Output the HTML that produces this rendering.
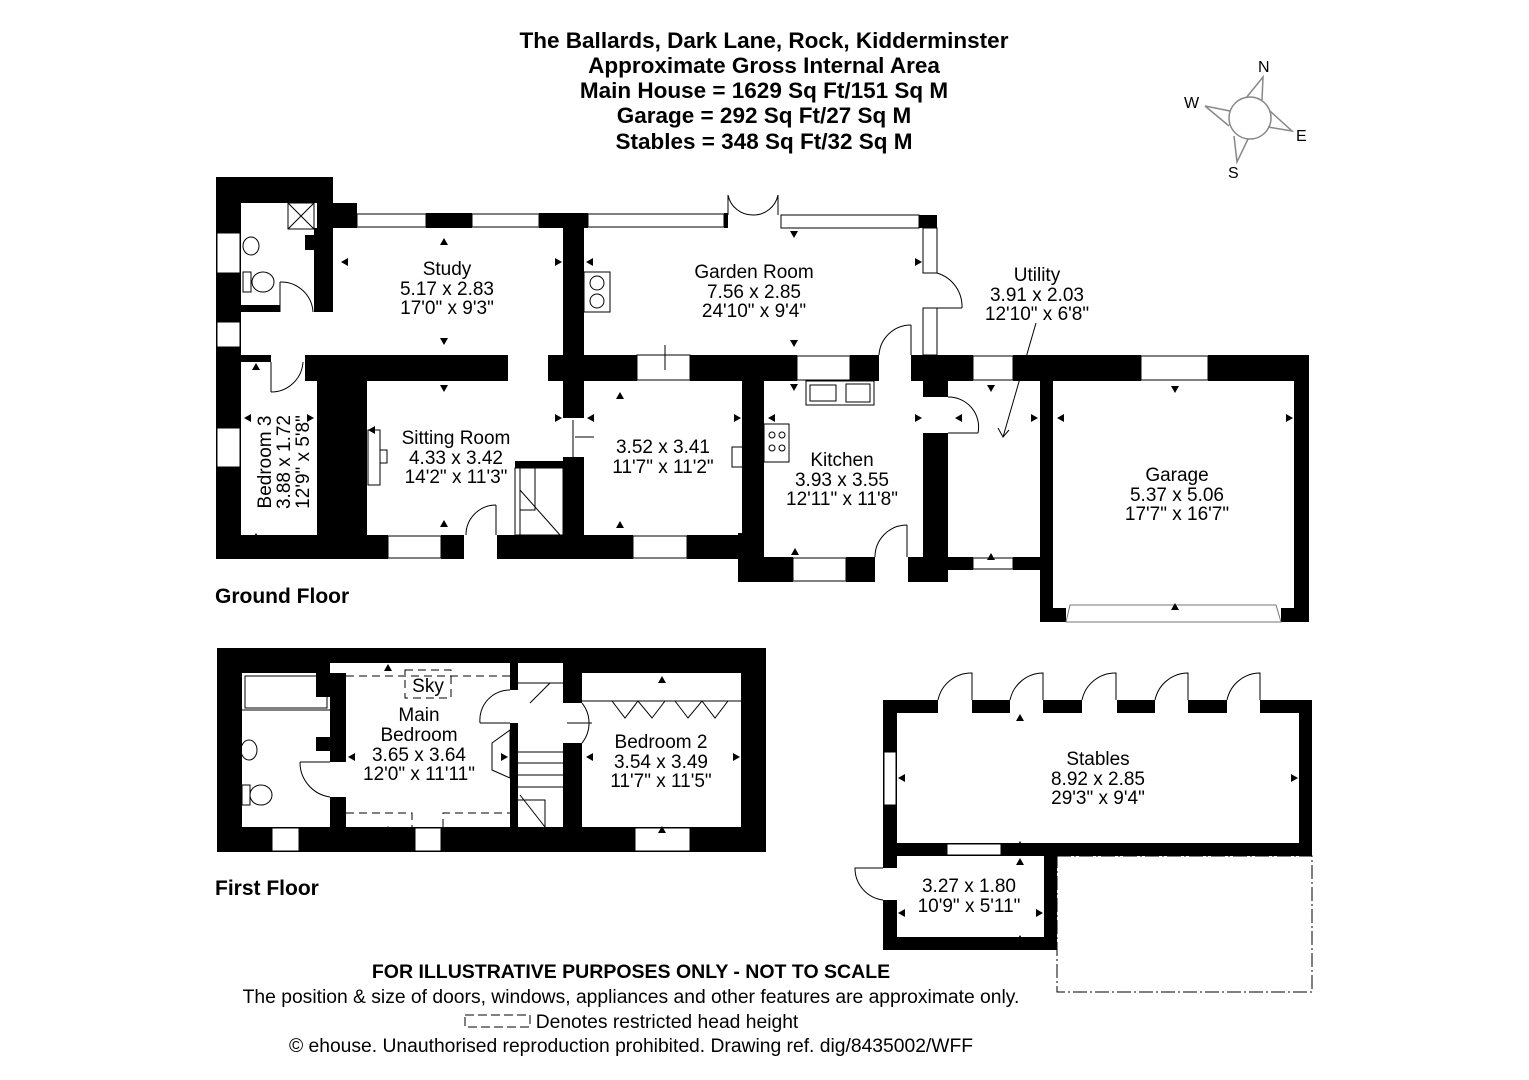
<!DOCTYPE html>
<html><head><meta charset="utf-8"><style>
html,body{margin:0;padding:0;background:#fff;}
svg{display:block;}
text{font-family:"Liberation Sans",Arial,sans-serif;}
</style></head><body>
<svg width="1529" height="1080" viewBox="0 0 1529 1080" xmlns="http://www.w3.org/2000/svg">
<!-- Title -->
<g font-weight="bold" font-size="22.5" text-anchor="middle" fill="#000">
<text x="764" y="48">The Ballards, Dark Lane, Rock, Kidderminster</text>
<text x="764" y="73">Approximate Gross Internal Area</text>
<text x="764" y="98">Main House = 1629 Sq Ft/151 Sq M</text>
<text x="764" y="123">Garage = 292 Sq Ft/27 Sq M</text>
<text x="764" y="149">Stables = 348 Sq Ft/32 Sq M</text>
</g>
<!-- Compass -->
<g stroke="#888" stroke-width="1.5" fill="none">
<circle cx="1250" cy="118" r="21"/>
<polyline points="1246,98 1263,77 1262,100"/>
<polyline points="1230,111 1205,106 1229,126"/>
<polyline points="1270,111 1292,131 1268,127"/>
<polyline points="1234,136 1237,162 1248,139"/>
</g>
<g font-size="16" fill="#000">
<text x="1258" y="72">N</text><text x="1184" y="108">W</text><text x="1296" y="141">E</text><text x="1228" y="178">S</text>
</g>

<!-- GROUND FLOOR WALLS -->
<g fill="#000">
<rect x="216" y="177" width="25" height="382"/>
<rect x="216" y="177" width="117" height="26"/>
<rect x="317" y="203" width="40" height="25"/>
<rect x="305" y="235" width="28" height="15"/>
<rect x="314" y="228" width="19" height="84"/>
<rect x="241" y="305" width="39" height="7"/>
<rect x="426" y="213" width="46" height="15"/>
<rect x="539" y="213" width="49" height="15"/>
<rect x="724" y="213" width="4" height="15"/>
<rect x="563" y="228" width="21" height="129"/>
<rect x="216" y="355" width="55" height="7"/>
<rect x="305" y="355" width="203" height="26"/>
<rect x="548" y="355" width="89" height="26"/>
<rect x="690" y="355" width="107" height="26"/>
<rect x="850" y="355" width="29" height="26"/>
<rect x="911" y="355" width="62" height="26"/>
<rect x="923" y="380" width="25" height="17"/>
<rect x="1013" y="355" width="128" height="26"/>
<rect x="1208" y="355" width="101" height="26"/>
<rect x="317" y="362" width="50" height="174"/>
<rect x="216" y="535" width="172" height="24"/>
<rect x="441" y="535" width="23" height="24"/>
<rect x="497" y="535" width="136" height="24"/>
<rect x="687" y="535" width="56" height="24"/>
<rect x="563" y="381" width="21" height="37"/>
<rect x="563" y="457" width="21" height="79"/>
<rect x="515" y="461" width="48" height="7"/>
<rect x="742" y="381" width="22" height="155"/>
<rect x="738" y="533" width="26" height="49"/>
<rect x="738" y="557" width="55" height="25"/>
<rect x="846" y="557" width="29" height="25"/>
<rect x="908" y="557" width="40" height="25"/>
<rect x="923" y="433" width="25" height="149"/>
<rect x="948" y="557" width="25" height="13"/>
<rect x="1013" y="557" width="27" height="13"/>
<rect x="919" y="215" width="18" height="13"/>
<rect x="1040" y="380" width="13" height="242"/>
<rect x="1294" y="355" width="15" height="267"/>
<rect x="1040" y="608" width="26" height="14"/>
<rect x="1281" y="608" width="28" height="14"/>
</g>
<g fill="#fff" stroke="#000" stroke-width="1">
<rect x="357" y="214" width="69" height="13"/>
<rect x="472" y="214" width="67" height="13"/>
<rect x="588" y="214" width="136" height="13"/>
<rect x="781" y="215" width="138" height="13"/>
<rect x="923" y="228" width="14" height="45"/>
<rect x="923" y="308" width="14" height="47"/>
<rect x="637" y="355" width="53" height="25"/>
<rect x="797" y="356" width="53" height="24"/>
<rect x="973" y="356" width="40" height="24"/>
<rect x="1141" y="356" width="67" height="24"/>
<rect x="388" y="536" width="53" height="22"/>
<rect x="633" y="536" width="54" height="22"/>
<rect x="793" y="558" width="53" height="23"/>
<rect x="973" y="558" width="40" height="11"/>
<rect x="217" y="233" width="23" height="40"/>
<rect x="217" y="322" width="23" height="25"/>
<rect x="217" y="428" width="23" height="39"/>
</g>
<g fill="none" stroke="#000" stroke-width="1">
<path d="M280 282 A32 32 0 0 1 313 312"/><line x1="280" y1="282" x2="280" y2="312"/>
<path d="M271 392 A32 32 0 0 0 303 362"/><line x1="271" y1="362" x2="271" y2="392"/>
<path d="M466 535 A30 30 0 0 1 496 505"/><line x1="496" y1="505" x2="496" y2="535"/>
<path d="M728 195 A25 25 0 0 0 753 215 M778 195 A25 25 0 0 1 753 215"/>
<line x1="728" y1="195" x2="728" y2="215"/><line x1="778" y1="195" x2="778" y2="215"/>
<path d="M937 273 A35 35 0 0 1 962 308"/><line x1="937" y1="308" x2="962" y2="308"/>
<path d="M879 355 A32 32 0 0 1 911 325"/><line x1="911" y1="325" x2="911" y2="355"/>
<path d="M948 397 A30 30 0 0 1 978 433"/><line x1="948" y1="433" x2="978" y2="433"/>
<path d="M875 557 A32 32 0 0 1 907 525"/><line x1="907" y1="525" x2="907" y2="557"/>
<path d="M1066 622 L1070 605 L1276 605 L1281 622 Z" stroke="#777"/>
<line x1="1036" y1="323" x2="1003" y2="437"/><path d="M998 428 L1003 437 L1009 430"/>
<rect x="515" y="468" width="48" height="67"/>
<path d="M520 468 L520 535 M535 468 L535 510 L520 510 M520 490 L560 535"/>
<rect x="288" y="203" width="26" height="26"/><path d="M288 203 L314 229 M314 203 L288 229"/>
<ellipse cx="251" cy="246" rx="8" ry="9"/>
<rect x="243" y="272" width="8" height="20"/><ellipse cx="263" cy="282" rx="11" ry="10"/>
<rect x="584" y="272" width="26" height="40"/><circle cx="597" cy="283" r="7"/><circle cx="597" cy="301" r="7"/>
<rect x="368" y="430" width="12" height="55"/><rect x="380" y="450" width="7" height="13"/>
<rect x="732" y="447" width="14" height="20"/>
<rect x="764" y="424" width="25" height="38"/><circle cx="772" cy="435" r="3"/><circle cx="782" cy="435" r="3"/><circle cx="772" cy="448" r="3"/><circle cx="782" cy="448" r="3"/>
<rect x="806" y="381" width="68" height="24"/><rect x="810" y="385" width="26" height="16"/><rect x="846" y="384" width="24" height="18"/>
<line x1="573" y1="420" x2="573" y2="457"/><line x1="575" y1="437" x2="594" y2="437"/>
<line x1="665" y1="345" x2="665" y2="370"/>
</g>

<!-- FIRST FLOOR -->
<g fill="#000">
<rect x="217" y="648" width="549" height="15"/>
<rect x="217" y="648" width="113" height="25"/>
<rect x="582" y="648" width="184" height="25"/>
<rect x="217" y="648" width="25" height="204"/>
<rect x="741" y="648" width="25" height="204"/>
<rect x="217" y="827" width="549" height="25"/>
<rect x="316" y="673" width="14" height="24"/>
<rect x="330" y="673" width="16" height="89"/>
<rect x="330" y="797" width="16" height="30"/>
<rect x="316" y="737" width="14" height="14"/>
<rect x="510" y="663" width="8" height="27"/>
<rect x="510" y="723" width="8" height="104"/>
<rect x="563" y="663" width="19" height="40"/>
<rect x="563" y="743" width="19" height="84"/>
</g>
<g fill="#fff" stroke="#000" stroke-width="1">
<rect x="272" y="828" width="27" height="23"/>
<rect x="415" y="828" width="26" height="23"/>
<rect x="635" y="828" width="55" height="23"/>
</g>
<g fill="none" stroke="#000" stroke-width="1">
<rect x="245" y="676" width="82" height="32"/>
<line x1="242" y1="710" x2="330" y2="710"/>
<ellipse cx="249" cy="750" rx="8" ry="10"/>
<rect x="242" y="785" width="8" height="20"/><ellipse cx="261" cy="795" rx="11" ry="10"/>
<path d="M300 762 A35 35 0 0 0 330 797"/><line x1="300" y1="762" x2="330" y2="762"/>
<path d="M480 723 A30 30 0 0 1 510 690"/><line x1="480" y1="723" x2="510" y2="723"/>
<path d="M582 743 A32 32 0 0 0 582 703"/>
<path d="M518 683 L563 683 M550 683 L530 703 M582 701 L741 701"/>
<path d="M612 701 L625 718 L638 701 L652 718 L665 701 M675 701 L688 718 L702 701 L715 718 L728 701"/>
<path d="M492 743 L510 730 L510 778 L492 770 Z"/>
<path d="M518 752 L563 752 M518 763 L563 763 M518 775 L563 775 M518 787 L563 787 M518 800 L545 800 L545 827 M520 795 L545 827"/>
<line x1="567" y1="723" x2="592" y2="723"/>
</g>
<g fill="none" stroke="#000" stroke-width="1" stroke-dasharray="8,5">
<line x1="346" y1="676" x2="510" y2="676"/>
<path d="M346 813 L412 813 L412 827 M443 827 L443 813 L510 813"/>
<rect x="405" y="670" width="46" height="28"/>
</g>

<!-- STABLES -->
<g fill="#000">
<rect x="883" y="700" width="55" height="13"/>
<rect x="972" y="700" width="38" height="13"/>
<rect x="1043" y="700" width="39" height="13"/>
<rect x="1117" y="700" width="38" height="13"/>
<rect x="1188" y="700" width="39" height="13"/>
<rect x="1260" y="700" width="52" height="13"/>
<rect x="883" y="700" width="14" height="168"/>
<rect x="883" y="900" width="14" height="50"/>
<rect x="1299" y="700" width="13" height="156"/>
<rect x="883" y="843" width="429" height="13"/>
<rect x="1044" y="856" width="13" height="94"/>
<rect x="883" y="937" width="174" height="13"/>
</g>
<g fill="#fff" stroke="#000" stroke-width="1">
<rect x="884" y="752" width="12" height="53"/>
<rect x="947" y="844" width="54" height="11"/>
</g>
<g fill="none" stroke="#000" stroke-width="1">
<path d="M938 700 A34 34 0 0 1 972 673 L972 700"/>
<path d="M1010 700 A34 34 0 0 1 1043 673 L1043 700"/>
<path d="M1082 700 A34 34 0 0 1 1116 673 L1116 700"/>
<path d="M1155 700 A34 34 0 0 1 1188 673 L1188 700"/>
<path d="M1227 700 A34 34 0 0 1 1260 673 L1260 700"/>
<path d="M883 868 L855 868 A32 32 0 0 0 883 900"/>
</g>
<rect x="1057" y="856" width="255" height="136" fill="none" stroke="#000" stroke-width="1" stroke-dasharray="14,3,2,3"/>

<!-- dimension arrows -->
<g fill="#000">
<path d="M444 238 l-4 7 h8z M444 345 l-4 -7 h8z M444 392 l-4 -7 h8z M444 520 l-4 7 h8z"/>
<path d="M341 262 l7 -4 v8z M562 262 l-7 -4 v8z M368 430 l7 -4 v8z M562 418 l-7 -4 v8z"/>
<path d="M586 262 l7 -4 v8z M922 262 l-7 -4 v8z M794 238 l-4 -7 h8z M794 347 l-4 -7 h8z M794 391 l-4 -7 h8z"/>
<path d="M620 392 l-4 7 h8z M620 521 l-4 7 h8z M587 418 l7 -4 v8z M741 418 l-7 -4 v8z"/>
<path d="M768 418 l7 -4 v8z M922 418 l-7 -4 v8z M795 548 l-4 7 h8z M955 418 l7 -4 v8z M1038 418 l-7 -4 v8z M991 392 l-4 -7 h8z M991 553 l-4 7 h8z"/>
<path d="M1057 418 l7 -4 v8z M1293 418 l-7 -4 v8z M1175 393 l-4 -7 h8z M1175 603 l-4 7 h8z"/>
<path d="M244 418 l7 -4 v8z M314 418 l-7 -4 v8z M256 363 l-4 7 h8z M256 533 l-4 7 h8z"/>
<path d="M1020 714 l-4 7 h8z M1020 841 l-4 7 h8z M898 778 l7 -4 v8z M1298 778 l-7 -4 v8z"/>
<path d="M1020 858 l-4 7 h8z M1020 935 l-4 7 h8z M898 913 l7 -4 v8z M1043 913 l-7 -4 v8z"/>
<path d="M348 757 l7 -4 v8z M508 757 l-7 -4 v8z M388 664 l-4 7 h8z M388 826 l-4 7 h8z"/>
<path d="M586 757 l7 -4 v8z M740 757 l-7 -4 v8z M662 676 l-4 7 h8z M662 826 l-4 7 h8z"/>
</g>

<!-- room labels -->
<g font-size="19" text-anchor="middle" fill="#000">
<text x="447" y="275">Study</text><text x="447" y="295">5.17 x 2.83</text><text x="447" y="314">17'0" x 9'3"</text>
<text x="754" y="278">Garden Room</text><text x="754" y="298">7.56 x 2.85</text><text x="754" y="317">24'10" x 9'4"</text>
<text x="1037" y="281">Utility</text><text x="1037" y="301">3.91 x 2.03</text><text x="1037" y="320">12'10" x 6'8"</text>
<text x="456" y="444">Sitting Room</text><text x="456" y="464">4.33 x 3.42</text><text x="456" y="483">14'2" x 11'3"</text>
<text x="663" y="453">3.52 x 3.41</text><text x="663" y="473">11'7" x 11'2"</text>
<text x="842" y="466">Kitchen</text><text x="842" y="486">3.93 x 3.55</text><text x="842" y="505">12'11" x 11'8"</text>
<text x="1177" y="481">Garage</text><text x="1177" y="501">5.37 x 5.06</text><text x="1177" y="520">17'7" x 16'7"</text>
<g transform="translate(278,462) rotate(-90)"><text x="0" y="-7">Bedroom 3</text><text x="0" y="12">3.88 x 1.72</text><text x="0" y="31">12'9" x 5'8"</text></g>
<text x="428" y="692">Sky</text>
<text x="419" y="721">Main</text><text x="419" y="741">Bedroom</text><text x="419" y="761">3.65 x 3.64</text><text x="419" y="780">12'0" x 11'11"</text>
<text x="661" y="748">Bedroom 2</text><text x="661" y="768">3.54 x 3.49</text><text x="661" y="787">11'7" x 11'5"</text>
<text x="1098" y="765">Stables</text><text x="1098" y="785">8.92 x 2.85</text><text x="1098" y="804">29'3" x 9'4"</text>
<text x="969" y="892">3.27 x 1.80</text><text x="969" y="912">10'9" x 5'11"</text>
</g>
<g font-size="21" font-weight="bold" fill="#000">
<text x="215" y="603">Ground Floor</text>
<text x="215" y="895">First Floor</text>
</g>
<!-- footer -->
<g text-anchor="middle" fill="#000">
<text x="631" y="978" font-size="19.5" font-weight="bold">FOR ILLUSTRATIVE PURPOSES ONLY - NOT TO SCALE</text>
<text x="631" y="1003" font-size="19.3">The position &amp; size of doors, windows, appliances and other features are approximate only.</text>
<text x="667" y="1028" font-size="19.3">Denotes restricted head height</text>
<text x="631" y="1052" font-size="19.3">© ehouse. Unauthorised reproduction prohibited. Drawing ref. dig/8435002/WFF</text>
</g>
<rect x="465" y="1015" width="65" height="12" fill="none" stroke="#000" stroke-dasharray="9,4"/>
</svg>
</body></html>
